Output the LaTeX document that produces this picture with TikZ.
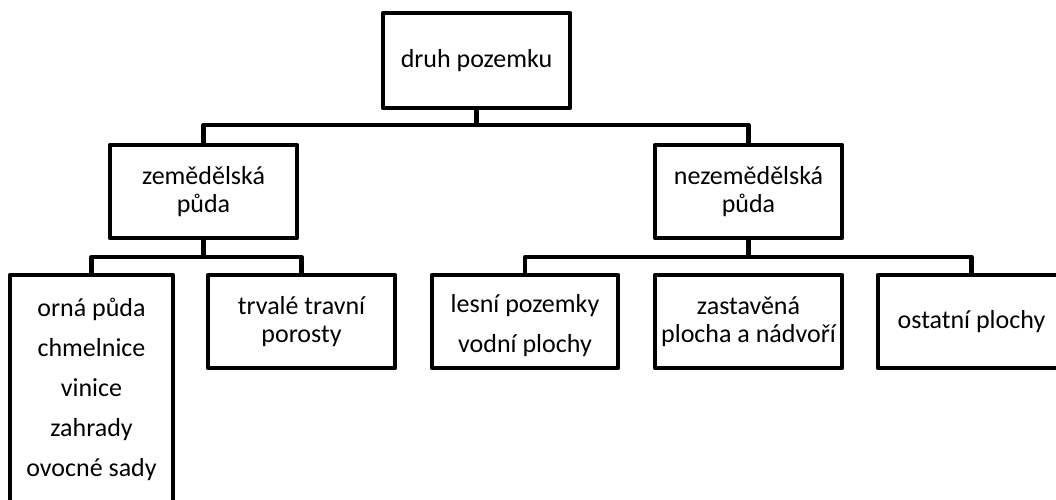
\documentclass[tikz,border=0pt]{standalone}
\usepackage{fontspec}
\setmainfont{Carlito}
\begin{document}
\begin{tikzpicture}[x=1pt,y=-1pt,
  box/.style={draw, line width=4.5pt, line join=round, rectangle, inner sep=0pt,
    minimum width=187pt, minimum height=93pt, align=center,
    font=\fontsize{26}{28}\selectfont},
  widebox/.style={box, font=\fontsize{26}{40}\selectfont},
  caption/.style={align=center, inner sep=0pt, font=\fontsize{26}{40}\selectfont},
  link/.style={line width=4.5pt, line join=round}]
\useasboundingbox (0,0) rectangle (1056,499);
\clip (0,0) rectangle (1056,499);

% levels of the hierarchy
\node[box, minimum height=95pt] (root) at (476.5,60.5) {druh pozemku};
\node[box] (zem) at (203.5,191.5) {zemědělská\\půda};
\node[box] (nezem) at (748.5,191.5) {nezemědělská\\půda};
\node[widebox, minimum width=163pt, minimum height=229pt] (orna) at (91.5,389.5)
  {orná půda\\chmelnice\\vinice\\zahrady\\ovocné sady};
\node[box] (ttp) at (301.5,321.5) {trvalé travní\\porosty};
\node[box, minimum width=186pt] (les) at (525,321.5) {};
\node[caption] (lestext) at ([yshift=-4pt]les.center) {lesní pozemky\\vodní plochy};
\node[box] (zast) at (748.5,321.5) {zastavěná\\plocha a nádvoří};
\node[box, minimum width=200pt] (ost) at (978,321.5) {};
\node[caption] (osttext) at (971.5,321.5) {ostatní plochy};

% horizontal buses
\coordinate (bus1) at (0,125);
\coordinate (bus2) at (0,257);
\coordinate (bus3) at (0,257);

\draw[link] (root.south) -- (root.south |- bus1);
\draw[link] (zem.north) |- (bus1 -| nezem.north) -- (nezem.north);

\draw[link] (zem.south) -- (zem.south |- bus2);
\draw[link] (orna.north) |- (bus2 -| ttp.north) -- (ttp.north);

\draw[link] (nezem.south) -- (nezem.south |- bus3);
\draw[link] (les.north) |- (bus3 -| osttext.north) -- (osttext.north |- ost.north);
\end{tikzpicture}
\end{document}
